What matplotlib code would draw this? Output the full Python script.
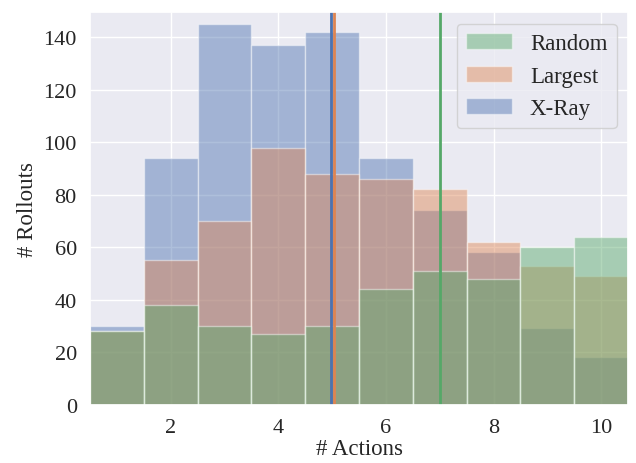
import matplotlib
matplotlib.use("Agg")
import matplotlib.pyplot as plt
import seaborn as sns
import numpy as np

sns.set_theme(style="darkgrid")
plt.rcParams['font.family'] = ['Liberation Serif', 'DejaVu Serif']

# number of actions per rollout (bins) and counts
actions = [1, 2, 3, 4, 5, 6, 7, 8, 9, 10]
random_counts = [28, 38, 30, 27, 30, 44, 51, 48, 60, 64]
largest_counts = [28, 55, 70, 98, 88, 86, 82, 62, 53, 49]
xray_counts = [30, 94, 145, 137, 142, 94, 74, 58, 29, 18]

labels = ['Random', 'Largest', 'X-Ray']
pal = sns.color_palette("deep")
colors = [pal[2], pal[1], pal[0]]
series = [random_counts, largest_counts, xray_counts]


def median_of(counts):
    cum = np.cumsum(counts)
    return actions[int(np.searchsorted(cum, cum[-1] / 2.0))]


fig = plt.figure(figsize=(6.36, 4.64), dpi=100)
ax = fig.add_axes([0.1415, 0.126, 0.846, 0.845])

# X-Ray drawn first, Random last (on top)
handles = {}
for lab, col, cnt in reversed(list(zip(labels, colors, series))):
    handles[lab] = ax.bar(actions, cnt, width=1.0, color=col, alpha=0.45,
                          edgecolor='white', linewidth=1.0, label=lab)

# median lines (X-Ray and Largest coincide, nudge so both are visible)
nudge = {'Random': 0.0, 'Largest': 0.03, 'X-Ray': -0.03}
for lab, col, cnt in zip(labels, colors, series):
    ax.axvline(median_of(cnt) + nudge[lab], color=col, linewidth=2)

ax.set_xlim(0.5, 10.5)
ax.set_ylim(0, 149.5)
ax.set_xticks([2, 4, 6, 8, 10])
ax.set_yticks([0, 20, 40, 60, 80, 100, 120, 140])
ax.tick_params(labelsize=16)
ax.set_xlabel('# Actions', fontsize=16.5, labelpad=1)
ax.set_ylabel('# Rollouts', fontsize=16.5)
ax.legend([handles[l] for l in labels], labels, loc='upper right', fontsize=16.5)

fig.savefig('out.png', dpi=100)
